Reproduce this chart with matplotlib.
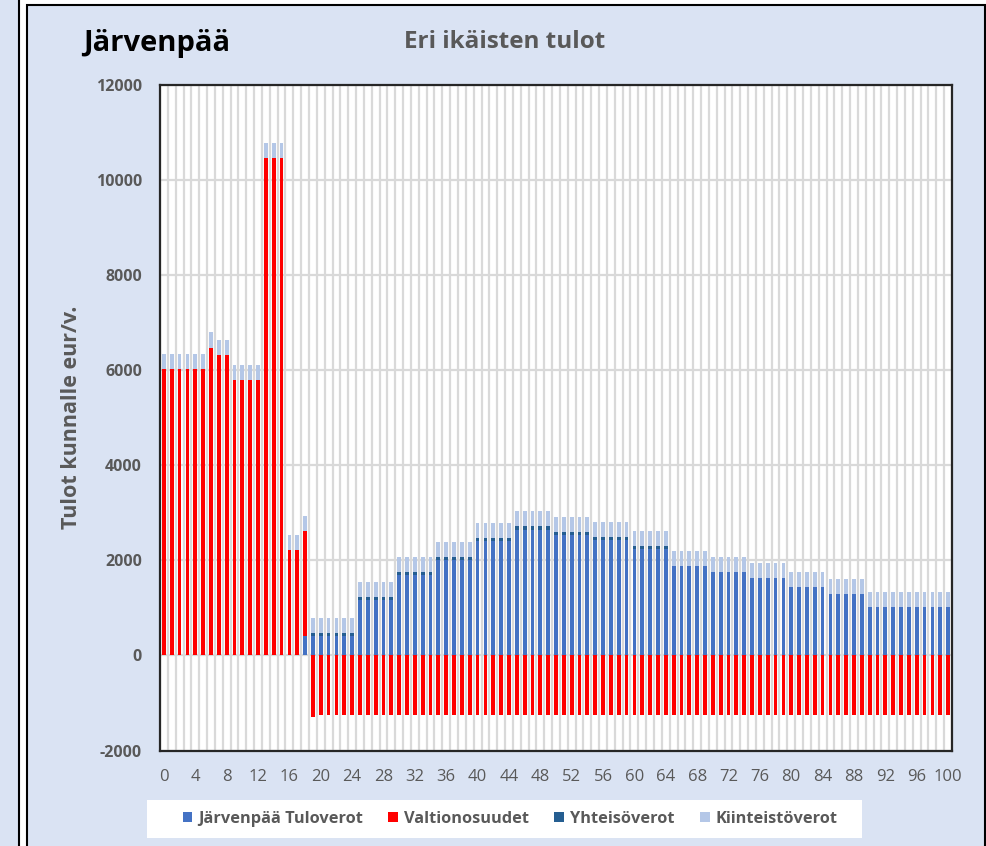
import matplotlib
matplotlib.use("Agg")
import matplotlib.pyplot as plt
from matplotlib.patches import Rectangle, Patch
import numpy as np

plt.rcParams['font.family'] = ['Open Sans', 'DejaVu Sans']

# ---- data ----
ages = list(range(0, 101))
xtick_labels = [str(a) for a in range(0, 101, 4)]

tuloverot = ([0] * 18 + [400] + [415] * 6 + [1160] * 5 + [1695] * 5 + [2015] * 5 +
             [2415] * 5 + [2645] * 5 + [2540] * 5 + [2435] * 5 + [2245] * 5 +
             [1885] * 5 + [1755] * 5 + [1628] * 5 + [1432] * 5 + [1302] * 5 + [1030] * 11)

valtionosuudet = ([6025] * 6 + [6480] + [6320] * 2 + [5795] * 4 + [10470] * 3 +
                  [2225] * 3 + [-1290] + [-1255] * 81)

yhteisoverot = ([0] * 19 + [62] * 6 + [62] * 5 + [68] * 5 + [63] * 5 + [63] * 5 +
                [70] * 5 + [50] * 5 + [63] * 5 + [64] * 5 + [0] * 36)

kiinteistoverot = ([312] * 6 + [320] + [318] * 2 + [310] * 4 + [309] * 3 + [316] * 3 +
                   [312] * 6 + [316] * 5 + [310] * 5 + [316] * 5 + [316] * 5 + [324] * 5 +
                   [324] * 5 + [316] * 5 + [315] * 5 + [318] * 5 + [316] * 5 + [317] * 5 +
                   [316] * 5 + [312] * 5 + [316] * 11)

series_names = ["Järvenpää Tuloverot", "Valtionosuudet", "Yhteisöverot", "Kiinteistöverot"]
series_colors = ["#4472C4", "#FF0000", "#255E91", "#B4C7E7"]

W, H = 987, 846
fig = plt.figure(figsize=(W / 100, H / 100), dpi=100, facecolor="white")

def fx(px):
    return px / W

def fy(py):
    return 1 - py / H

panel_bg = "#DAE3F3"
# left sliver of a neighbouring panel
fig.patches.append(Rectangle((fx(-5), fy(850)), fx(24), fy(5) - fy(850) + 0.01,
                             transform=fig.transFigure, facecolor=panel_bg,
                             edgecolor="black", linewidth=1.5, zorder=-3))
# main panel
fig.patches.append(Rectangle((fx(27), fy(852)), fx(985) - fx(27), fy(5) - fy(852),
                             transform=fig.transFigure, facecolor=panel_bg,
                             edgecolor="black", linewidth=1.5, zorder=-3))
# legend box
fig.patches.append(Rectangle((fx(147), fy(838)), fx(862) - fx(147), fy(800) - fy(838),
                             transform=fig.transFigure, facecolor="white",
                             edgecolor="none", zorder=-2))

ax = fig.add_axes([fx(160), fy(750.5), fx(952) - fx(160), fy(85.3) - fy(750.5)])
ax.set_zorder(2)
ax.set_facecolor("white")

x = np.array(ages)
tv = np.array(tuloverot, dtype=float)
vo = np.array(valtionosuudet, dtype=float)
yv = np.array(yhteisoverot, dtype=float)
kv = np.array(kiinteistoverot, dtype=float)

pos_base = np.zeros(len(x))
neg_base = np.zeros(len(x))
bw = 0.48
for vals, col, name in zip([tv, vo, yv, kv], series_colors, series_names):
    pos = np.where(vals > 0, vals, 0)
    neg = np.where(vals < 0, vals, 0)
    ax.bar(x, pos, bw, bottom=pos_base, color=col, zorder=3, linewidth=0)
    ax.bar(x, neg, bw, bottom=neg_base, color=col, zorder=3, linewidth=0)
    pos_base = pos_base + pos
    neg_base = neg_base + neg

ax.set_xlim(-0.5, 100.5)
ax.set_ylim(-2000, 12000)
ax.set_yticks(range(-2000, 12001, 2000))
ax.set_yticklabels([str(v) for v in range(-2000, 12001, 2000)],
                   fontsize=11.5, fontweight="bold", color="#595959")
ax.set_xticks(range(0, 101, 4))
ax.set_xticklabels(xtick_labels, fontsize=12, color="#595959")
ax.set_xticks(np.arange(-0.5, 101, 1.0), minor=True)
ax.tick_params(axis="both", which="both", length=0)
ax.tick_params(axis="x", pad=13)
ax.tick_params(axis="y", pad=13)
ax.grid(True, axis="x", which="minor", color="#D9D9D9", linewidth=1.6, zorder=0)
ax.grid(True, axis="y", which="major", color="#D9D9D9", linewidth=1.6, zorder=0)
ax.set_axisbelow(True)
for s in ax.spines.values():
    s.set_color("#262626")
    s.set_linewidth(1.6)

fig.text(fx(505), fy(42), "Eri ikäisten tulot", ha="center", va="center",
         fontsize=17.5, fontweight="bold", color="#595959")
fig.text(fx(83), fy(43), "Järvenpää", ha="left", va="center",
         fontsize=21, fontweight="bold", color="black")
fig.text(fx(72), fy(417), "Tulot kunnalle eur/v.", ha="center", va="center",
         rotation=90, fontsize=15.5, fontweight="bold", color="#595959")

handles = [Patch(facecolor=c, edgecolor="none") for c in series_colors]
leg = fig.legend(handles, series_names, loc="center", bbox_to_anchor=(fx(510), fy(819)),
                 ncol=4, frameon=False, handlelength=0.6, handleheight=0.6,
                 handletextpad=0.35, columnspacing=1.55,
                 prop={"size": 11.8, "weight": "bold"})
for t in leg.get_texts():
    t.set_color("#595959")

fig.savefig("out.png", dpi=100, facecolor="white")
